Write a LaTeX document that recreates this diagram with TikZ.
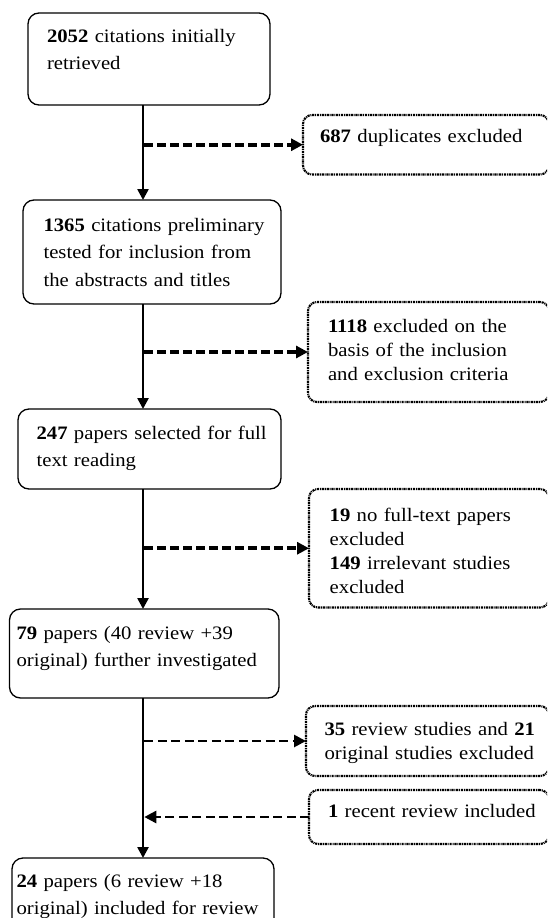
\documentclass[tikz,border=0pt]{standalone}
\usepackage{fontspec}
\setmainfont[FakeStretch=1.09]{Liberation Serif}
\usetikzlibrary{arrows.meta}
\begin{document}
\begin{tikzpicture}[x=1pt,y=-1pt,
  box/.style={anchor=north west, inner ysep=0pt, outer sep=0pt, align=left},
  lbox/.style={box, draw, line width=1.3pt, rounded corners=11pt, font=\fontsize{19}{27.5}\selectfont},
  rbox/.style={box, draw, line width=2.1pt, rounded corners=9pt, dash pattern=on 2.2pt off 0.8pt on 1pt off 0.8pt, font=\fontsize{19}{24}\selectfont},
  flow/.style={line width=2.5pt, -{Triangle[length=11pt,width=11pt]}},
  side/.style={line width=3.8pt, dash pattern=on 8.5pt off 4.5pt, -{Triangle[length=12pt,width=12pt]}},
  sidethin/.style={line width=2.7pt, dash pattern=on 9pt off 4.5pt, -{Triangle[length=12pt,width=12pt]}},
]
\useasboundingbox (0,0) rectangle (547,918);
\clip (0,0) rectangle (547,918);
\coordinate (sp) at (143,0);

% main boxes
\node[lbox, inner xsep=19pt, text width=204pt, text height=29pt, text depth=63pt] (b1) at (28,13)
  {\mbox{\textbf{2052} citations initially}\\ \mbox{retrieved}};
\node[lbox, inner xsep=20.5pt, text width=217pt, text height=31pt, text depth=73pt] (b2) at (23,200)
  {\mbox{\textbf{1365} citations preliminary}\\ \mbox{tested for inclusion from}\\ \mbox{the abstracts and titles}};
\node[lbox, inner xsep=18.6pt, text width=225.8pt, text height=30pt, text depth=50pt] (b3) at (18,409)
  {\mbox{\textbf{247} papers selected for full}\\ \mbox{text reading}};
\node[lbox, inner xsep=7pt, text width=255.5pt, text height=30pt, text depth=59pt] (b4) at (9.5,609)
  {\mbox{\textbf{79} papers (40 review +39}\\ \mbox{original) further investigated}};
\node[lbox, inner xsep=4.5pt, text width=253pt, text height=29pt, text depth=53pt] (b5) at (12,858)
  {\mbox{\textbf{24} papers (6 review +18}\\ \mbox{original) included for review}};

% side boxes
\node[rbox, inner xsep=17pt, text width=212pt, text height=27pt, text depth=32.5pt] (r1) at (303,115)
  {\mbox{\textbf{687} duplicates excluded}};
\node[rbox, inner xsep=20pt, text width=201pt, text height=30pt, text depth=70pt] (r2) at (308,302)
  {\mbox{\textbf{1118} excluded on the}\\ \mbox{basis of the inclusion}\\ \mbox{and exclusion criteria}};
\node[rbox, inner xsep=20.7pt, text width=198.6pt, text height=32pt, text depth=86.5pt] (r3) at (309,489)
  {\mbox{\textbf{19} no full-text papers}\\ \mbox{excluded}\\ \mbox{\textbf{149} irrelevant studies}\\ \mbox{excluded}};
\node[rbox, inner xsep=18.5pt, text width=206pt, text height=29pt, text depth=41pt] (r4) at (306,706)
  {\mbox{\textbf{35} review studies and \textbf{21}}\\ \mbox{original studies excluded}};
\node[rbox, inner xsep=19pt, text width=202pt, text height=27pt, text depth=27pt] (r5) at (309,790)
  {\mbox{\textbf{1} recent review included}};

% main flow
\draw[flow] (b1.south -| sp) -- (b2.north -| sp);
\draw[flow] (b2.south -| sp) -- (b3.north -| sp);
\draw[flow] (b3.south -| sp) -- (b4.north -| sp);
\draw[flow] (b4.south -| sp) -- (b5.north -| sp);

% side flows
\draw[side] (r1.west -| sp) ++(1.3,0) -- (r1.west);
\draw[side] (r2.west -| sp) ++(1.3,0) -- (r2.west);
\draw[side] (r3.west -| sp) ++(1.3,0) -- (r3.west);
\draw[sidethin] (r4.west -| sp) ++(1.3,0) -- (r4.west);
\draw[sidethin] (r5.west) -- ([xshift=1.3pt]r5.west -| sp);
\end{tikzpicture}
\end{document}
